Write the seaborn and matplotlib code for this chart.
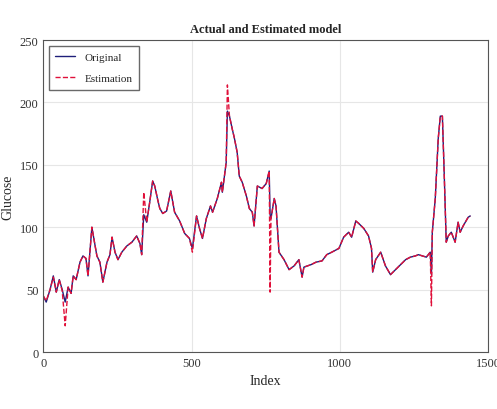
import pandas as pd
import matplotlib
matplotlib.use('Agg')
import matplotlib.pyplot as plt
import seaborn as sns

# Sample index positions
index = [0, 10, 23, 34, 44, 54, 64, 74, 84, 94, 101, 111, 124, 134, 144, 151,
         164, 175, 181, 191, 201, 215, 225, 232, 242, 252, 265, 282, 299, 315,
         326, 332, 339, 349, 359, 369, 376, 386, 393, 403, 416, 430, 443, 460,
         477, 493, 503, 517, 527, 537, 550, 564, 571, 587, 601, 604, 617, 621,
         628, 638, 644, 654, 661, 671, 685, 695, 705, 711, 722, 738, 752, 762,
         765, 768, 779, 785, 795, 812, 829, 846, 862, 873, 879, 903, 920, 940,
         956, 973, 997, 1013, 1030, 1040, 1054, 1064, 1081, 1097, 1107, 1111,
         1121, 1138, 1154, 1171, 1188, 1205, 1222, 1238, 1255, 1265, 1292, 1305,
         1309, 1312, 1322, 1332, 1339, 1346, 1352, 1359, 1366, 1376, 1389, 1399,
         1406, 1416, 1433, 1440]

original = [45, 40, 50, 61, 48, 58, 50, 40, 52, 47, 61, 58, 72, 77, 75, 61,
            100, 85, 77, 72, 56, 72, 78, 92, 80, 74, 80, 85, 88, 93,
            87, 78, 110, 104, 120, 137, 133, 122, 115, 111, 113, 129, 112, 105,
            95, 91, 83, 109, 99, 91, 107, 117, 112, 123, 136, 128, 152, 193,
            189, 178, 172, 160, 141, 136, 125, 115, 112, 101, 133, 131, 135, 145,
            110, 107, 123, 117, 80, 74, 66, 69, 74, 60, 68, 70, 72, 73,
            78, 80, 83, 92, 96, 92, 105, 103, 99, 93, 83, 64,
            74, 80, 69, 62, 66, 70, 74, 76, 77, 78, 76, 80,
            62, 96, 123, 171, 189, 189, 144, 88, 93, 96, 88, 104,
            96, 101, 108, 109]

estimation = [45, 41, 50, 60, 48, 58, 49, 21, 52, 47, 61, 58, 72, 77, 75, 61,
              100, 85, 77, 72, 56, 72, 78, 92, 80, 74, 80, 85, 88, 93,
              87, 78, 128, 104, 120, 137, 133, 122, 115, 111, 113, 129, 112, 105,
              95, 91, 80, 109, 99, 91, 107, 117, 112, 123, 136, 128, 152, 214,
              189, 178, 172, 160, 141, 136, 125, 115, 112, 101, 133, 131, 135, 145,
              48, 107, 123, 117, 80, 74, 66, 69, 74, 60, 68, 70, 72, 73,
              78, 80, 83, 92, 96, 92, 105, 103, 99, 93, 83, 64,
              74, 80, 69, 62, 66, 70, 74, 76, 77, 78, 76, 80,
              37, 96, 123, 171, 189, 189, 144, 88, 93, 96, 88, 104,
              96, 101, 108, 109]

df = pd.DataFrame({'Index': index, 'Original': original, 'Estimation': estimation})

sns.set_style('whitegrid')
plt.rcParams['font.family'] = ['Liberation Serif', 'DejaVu Serif']

fig = plt.figure(figsize=(4.97, 4.10), dpi=100)
ax = fig.add_axes([0.087, 0.139, 0.895, 0.761])

sns.lineplot(data=df, x='Index', y='Original', ax=ax, color='#1f1f7a',
             linewidth=1.0, label='Original')
sns.lineplot(data=df, x='Index', y='Estimation', ax=ax, color='#e0103a',
             linewidth=1.0, linestyle='--', label='Estimation')

ax.set_xlim(0, 1500)
ax.set_ylim(0, 250)
ax.set_xticks([0, 500, 1000, 1500])
ax.set_yticks([0, 50, 100, 150, 200, 250])
ax.tick_params(direction='in', labelsize=9, length=3, colors='#333333')
ax.grid(True, color='#e6e6e6', linewidth=0.8)
for s in ax.spines.values():
    s.set_color('#555555')
    s.set_linewidth(0.8)

ax.set_title('Actual and Estimated model', fontsize=9, fontweight='bold')
ax.set_xlabel('Index', fontsize=10)
ax.set_ylabel('Glucose', fontsize=10)
leg = ax.legend(loc='upper left', fontsize=8, frameon=True, fancybox=False,
                edgecolor='#444444', handlelength=1.8, labelspacing=1.0,
                borderpad=0.6)

fig.savefig('out.png', dpi=100)
